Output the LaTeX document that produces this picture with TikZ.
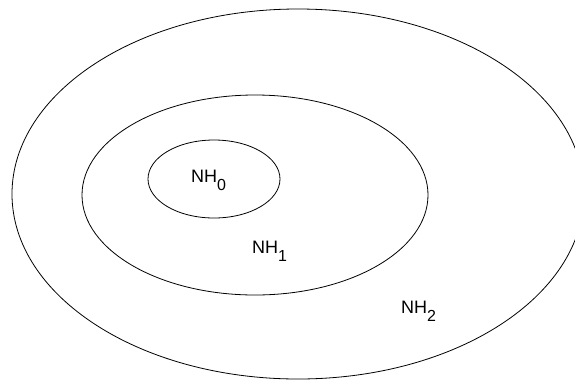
\documentclass[tikz,border=0pt]{standalone}
\usepackage{fontspec}
\setmainfont{Liberation Sans}
\newcommand{\nhlabel}[1]{NH\raisebox{-8pt}{\fontsize{16}{16}\selectfont #1}}
\begin{document}
\begin{tikzpicture}[x=1pt,y=-1pt,
  ring/.style={draw=black,line width=0.8pt},
  lbl/.style={inner sep=0pt,anchor=base west,font=\fontsize{18}{20}\selectfont}]
\useasboundingbox (0,0) rectangle (575,381);
\draw[ring] (298,194) ellipse [x radius=286,y radius=185];
\draw[ring] (255,195) ellipse [x radius=173,y radius=100];
\draw[ring] (214,179) ellipse [x radius=66,y radius=39];
\node[lbl] (nh0) at (191,182) {\nhlabel{0}};
\node[lbl] (nh1) at (252,253) {\nhlabel{1}};
\node[lbl] (nh2) at (401,313) {\nhlabel{2}};
\end{tikzpicture}
\end{document}
